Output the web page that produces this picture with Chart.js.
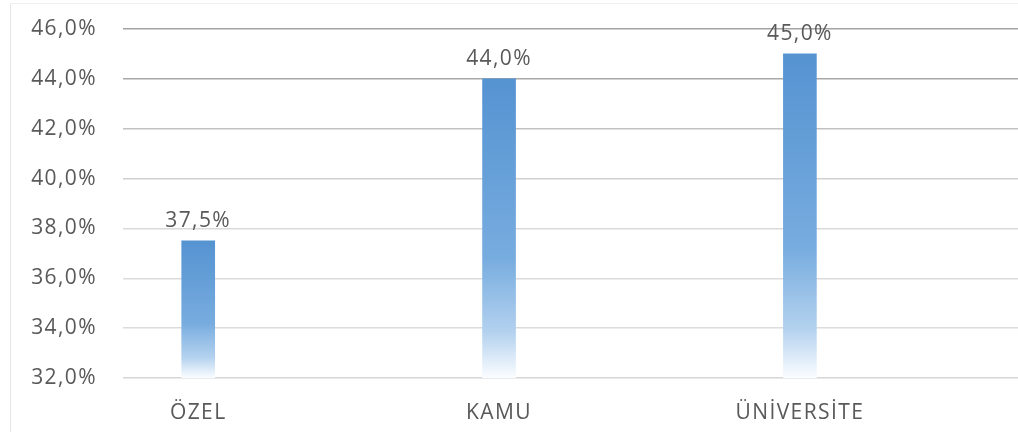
<!DOCTYPE html>
<html>
<head>
<meta charset="utf-8">
<script src="https://cdn.jsdelivr.net/npm/chart.js@4"></script>
<style>
    html, body { margin: 0; padding: 0; background: #fff; }
    #frame { position: absolute; left: 10px; top: 3px; width: 1020px; height: 440px;
             border-left: 1px solid #e6e6e6; border-top: 1px solid #f0f0f0; }
    #wrap { position: absolute; left: 0; top: 0; width: 1018px; height: 432px; }
</style>
</head>
<body>
<div id="frame"></div>
<div id="wrap"><canvas id="bar-chart" width="1018" height="432"></canvas></div>
<script>
// Share of respondents by institution type (%)
const categories = ['ÖZEL', 'KAMU', 'ÜNİVERSİTE'];
const values = [37.5, 44.0, 45.0];
const yTicks = [32, 34, 36, 38, 40, 42, 44, 46];

// Grid lines fade from darker at the top to light at the bottom
const gridColors = {46: '#a3a3a3', 44: '#a8a8a8', 42: '#c2c2c2', 40: '#d0d0d0',
                    38: '#dadada', 36: '#dcdcdc', 34: '#dcdcdc', 32: '#d6d6d6'};

const fmt = v => v.toFixed(1).replace('.', ',') + '%';
const labelFont = '21px "Open Sans"';
const textColor = '#595959';

// Vertical blue-to-white fill, one gradient per bar
function barFill(context) {
    const chart = context.chart;
    const y = chart.scales.y;
    if (!chart.chartArea || !y) return '#5b9bd5';
    const top = y.getPixelForValue(values[context.dataIndex]);
    const bottom = y.getPixelForValue(y.min);
    const g = chart.ctx.createLinearGradient(0, top, 0, bottom);
    g.addColorStop(0, '#5593d1');
    g.addColorStop(0.6, '#77acdf');
    g.addColorStop(0.85, '#b4d2ef');
    g.addColorStop(1, '#fbfdff');
    return g;
}

// Slightly spaced lettering for all chart text
const spacing = {
    id: 'spacing',
    beforeDraw(chart) { chart.ctx.letterSpacing = '1.4px'; }
};

// Value labels above each bar
const valueLabels = {
    id: 'valueLabels',
    afterDatasetsDraw(chart) {
        const ctx = chart.ctx;
        const meta = chart.getDatasetMeta(0);
        ctx.save();
        ctx.letterSpacing = '1.4px';
        ctx.font = labelFont;
        ctx.fillStyle = textColor;
        ctx.textAlign = 'center';
        ctx.textBaseline = 'alphabetic';
        meta.data.forEach((bar, i) => {
            ctx.fillText(fmt(values[i]), bar.x, bar.y - 14);
        });
        ctx.restore();
    }
};

const ctxBar = document.getElementById('bar-chart').getContext('2d');
const barChart = new Chart(ctxBar, {
    type: 'bar',
    data: {
        datasets: [{
            data: values.map((v, i) => ({ x: i, y: v })),
            backgroundColor: barFill,
            borderWidth: 0,
            barThickness: 33
        }]
    },
    options: {
        responsive: false,
        animation: false,
        layout: { padding: { left: 0, right: 0, top: 29, bottom: 0 } },
        plugins: { legend: { display: false }, tooltip: { enabled: false } },
        scales: {
            x: {
                type: 'linear',
                min: -0.25,
                max: 2.725,
                offset: false,
                grid: { display: false },
                border: { display: false },
                afterBuildTicks: scale => { scale.ticks = categories.map((c, i) => ({ value: i })); },
                afterFit: scale => { scale.height = 54; scale.paddingLeft = 0; scale.paddingRight = 0; },
                ticks: {
                    autoSkip: false,
                    maxRotation: 0,
                    padding: 14,
                    color: textColor,
                    font: { family: 'Open Sans', size: 21 },
                    callback: v => categories[v] ?? ''
                }
            },
            y: {
                min: 32,
                max: 46,
                afterBuildTicks: scale => { scale.ticks = yTicks.map(v => ({ value: v })); },
                afterFit: scale => { scale.width = 123; scale.paddingTop = 0; scale.paddingBottom = 0; },
                grid: {
                    drawTicks: false,
                    lineWidth: 1.5,
                    color: c => gridColors[c.tick ? c.tick.value : 32] || '#d9d9d9'
                },
                border: { display: false },
                ticks: {
                    padding: 26,
                    color: textColor,
                    font: { family: 'Open Sans', size: 21 },
                    callback: v => fmt(v)
                }
            }
        }
    },
    plugins: [spacing, valueLabels]
});
</script>
</body>
</html>
